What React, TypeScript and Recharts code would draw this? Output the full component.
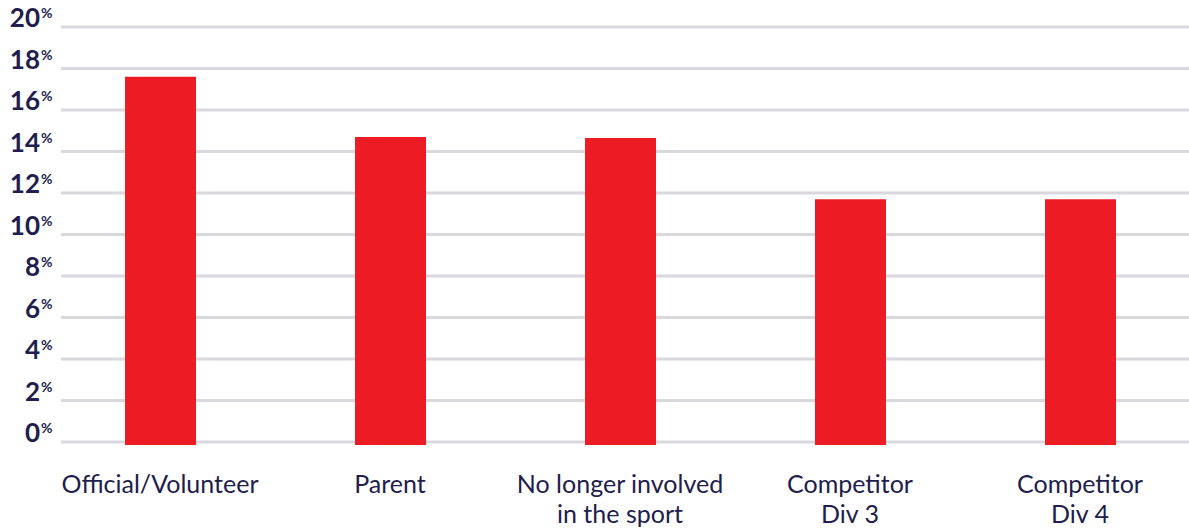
import React from 'react';
import { BarChart, Bar, XAxis, YAxis, CartesianGrid, Rectangle } from 'recharts';

const categories = ['Official/Volunteer', 'Parent', 'No longer involved\nin the sport', 'Competitor\nDiv 3', 'Competitor\nDiv 4'];
const values = [17.6, 14.7, 14.65, 11.7, 11.7];
const yTicks = [0, 2, 4, 6, 8, 10, 12, 14, 16, 18, 20];

const data = categories.map((c, i) => ({ name: c, value: values[i] }));

const NAVY = '#211D4E';
const FONT = 'Lato, "Noto Sans", sans-serif';

const YTick = (props: any) => {
  const { y, payload } = props;
  return (
    <g>
      <text x={40} y={y} textAnchor="end" fontFamily={FONT} fontWeight={700} fontSize={26} fill={NAVY}>
        {payload.value}
      </text>
      <text x={41} y={y - 9} textAnchor="start" fontFamily={FONT} fontWeight={700} fontSize={14} fill={NAVY}>
        %
      </text>
    </g>
  );
};

const XTick = (props: any) => {
  const { x, y, payload } = props;
  const lines = String(payload.value).split('\n');
  return (
    <g>
      {lines.map((l, i) => (
        <text key={i} x={x} y={y + 43 + i * 30} textAnchor="middle" fontFamily={FONT} fontSize={25} fill={NAVY}>
          {l}
        </text>
      ))}
    </g>
  );
};

const BarShape = (props: any) => <Rectangle {...props} height={props.height + 3} />;

export default function App() {
  return (
    <div style={{ position: 'absolute', left: 0, top: 0 }}>
      <BarChart width={1189} height={531} data={data} margin={{ top: 27, right: -6, bottom: 29, left: 0 }}>
        <CartesianGrid
          vertical={false}
          horizontal={(p: any) => (
            <line key={p.key} x1={p.x1 + 16} x2={p.x2} y1={p.y1} y2={p.y2} stroke="#D9D8DE" strokeWidth={3} />
          )}
        />
        <XAxis dataKey="name" axisLine={false} tickLine={false} interval={0} height={60} tick={<XTick />} />
        <YAxis
          domain={[0, 20]}
          ticks={yTicks}
          axisLine={false}
          tickLine={false}
          width={45}
          tick={<YTick />}
        />
        <Bar dataKey="value" fill="#ED1C24" barSize={71} isAnimationActive={false} shape={<BarShape />} />
      </BarChart>
    </div>
  );
}
